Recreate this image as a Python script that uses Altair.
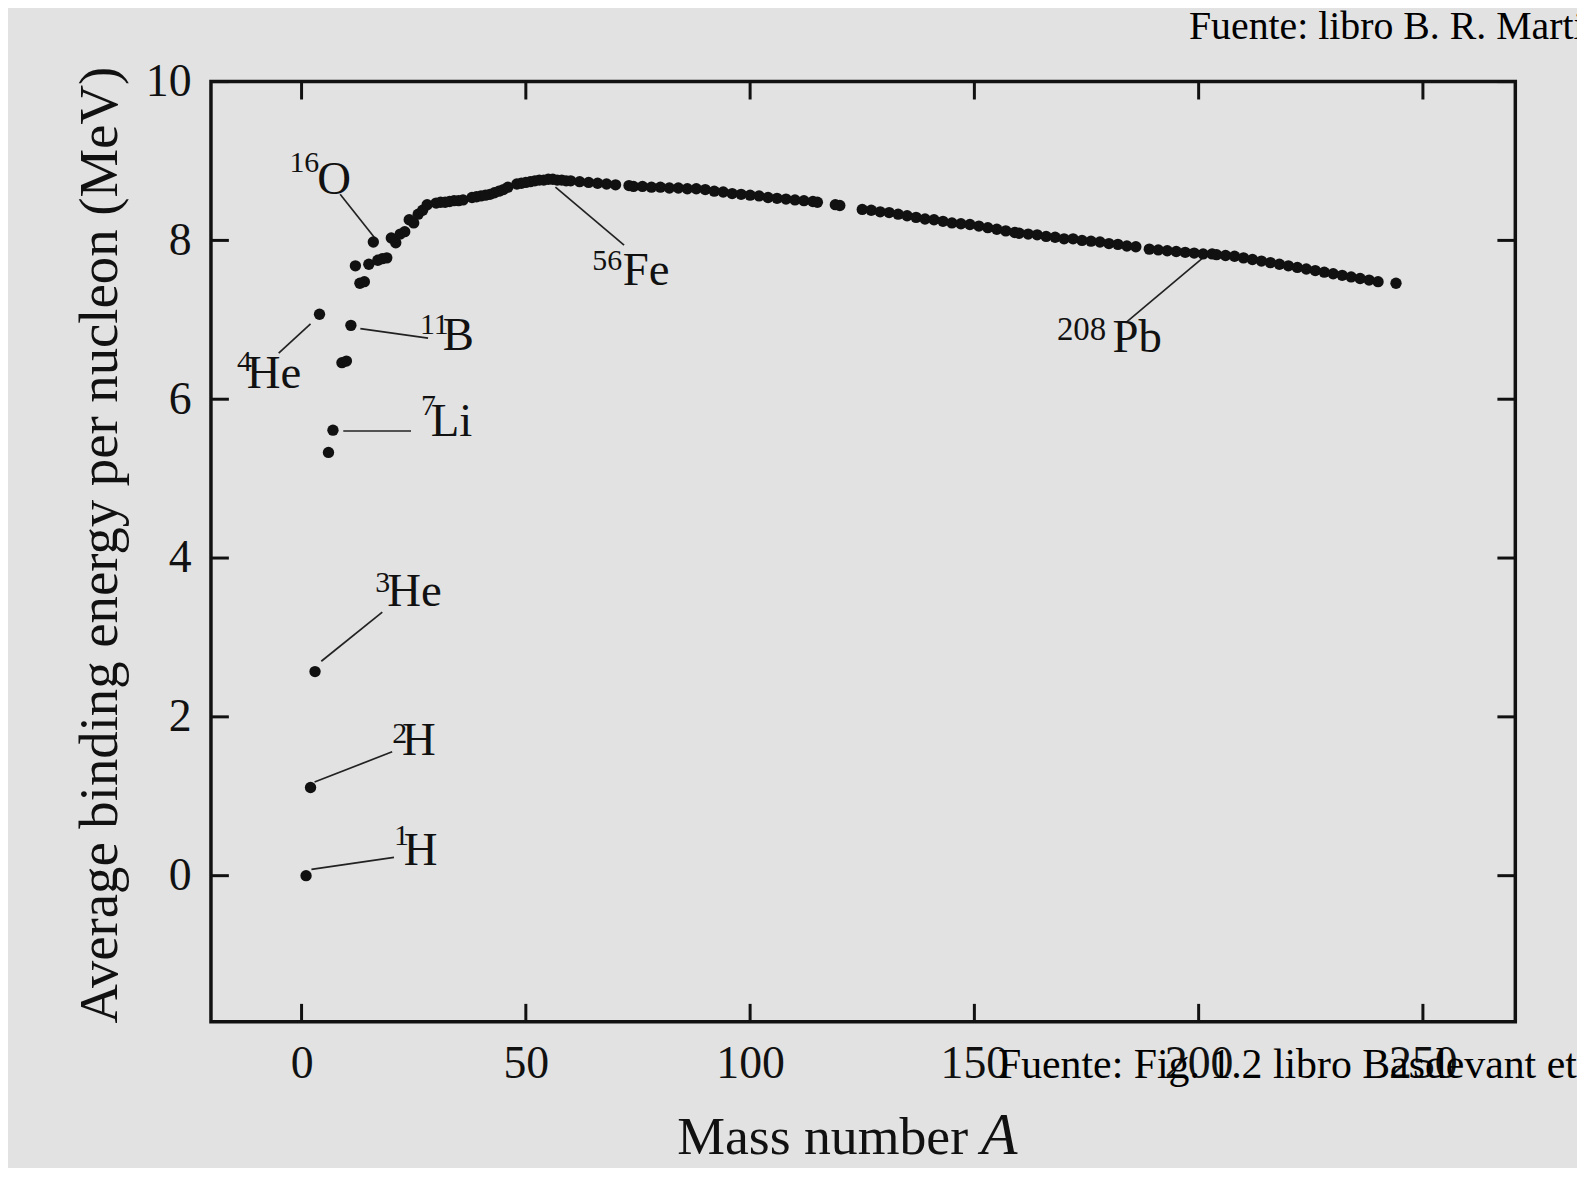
import altair as alt
import pandas as pd

# ---- data ----
mass_number = [1, 2, 3, 4, 6, 7, 9, 10, 11, 12, 13, 14, 15, 16, 17, 18, 19, 20, 21, 22, 23, 24, 25, 26, 27, 28,
               30, 31, 32, 33, 34, 35, 36,
               38, 39, 40, 41, 42, 43, 44, 45, 46,
               48, 49, 50, 51, 52, 53, 54, 55, 56, 57, 58, 59, 60, 62, 64, 66, 68, 70,
               73, 74, 76, 78, 80, 82, 84, 86, 88, 90, 92, 94, 96, 98, 100, 102, 104, 106, 108, 110, 112, 114, 115,
               119, 120,
               125, 127, 129, 131, 133, 135, 137, 139, 141, 143, 145, 147,
               149, 151, 153, 155, 157, 159, 160,
               162, 164, 166, 168, 170,
               172, 174, 176, 178, 180, 182, 184, 186,
               189, 191, 193, 195, 197, 199, 201,
               203, 204, 206, 208, 210, 212, 214, 216, 218, 220, 222, 224, 226, 228, 230, 232, 234, 236, 238, 240,
               244]
binding_energy = [0.0, 1.11, 2.57, 7.07, 5.33, 5.61, 6.46, 6.48, 6.93, 7.68, 7.46, 7.48, 7.70, 7.98, 7.75, 7.77, 7.78, 8.03, 7.97, 8.08, 8.11, 8.26, 8.22, 8.33, 8.38, 8.45,
                  8.47, 8.48, 8.48, 8.49, 8.50, 8.50, 8.51,
                  8.54, 8.55, 8.56, 8.57, 8.58, 8.60, 8.62, 8.64, 8.67,
                  8.71, 8.72, 8.73, 8.74, 8.75, 8.76, 8.76, 8.77, 8.77, 8.76, 8.76, 8.75, 8.75, 8.74, 8.73, 8.72, 8.71, 8.70,
                  8.69, 8.68, 8.68, 8.67, 8.67, 8.66, 8.66, 8.65, 8.65, 8.64, 8.62, 8.61, 8.59, 8.58, 8.57, 8.56, 8.54, 8.53, 8.52, 8.51, 8.50, 8.49, 8.48,
                  8.45, 8.44,
                  8.39, 8.38, 8.36, 8.35, 8.33, 8.31, 8.29, 8.27, 8.26, 8.24, 8.22, 8.21,
                  8.20, 8.18, 8.16, 8.14, 8.12, 8.10, 8.09,
                  8.08, 8.07, 8.05, 8.04, 8.02,
                  8.02, 8.00, 7.99, 7.98, 7.96, 7.95, 7.93, 7.92,
                  7.89, 7.88, 7.87, 7.86, 7.85, 7.84, 7.83,
                  7.83, 7.82, 7.81, 7.80, 7.78, 7.76, 7.74, 7.72, 7.70, 7.68, 7.66, 7.64, 7.62, 7.60, 7.58, 7.56, 7.54, 7.52, 7.50, 7.48,
                  7.46]

# nuclide labels (superscript mass number + symbol), anchored in data space
sup_text = ["1", "2", "3", "4", "7", "11", "16", "56"]
sup_A = [20.6, 20.2, 16.4, -14.4, 26.6, 26.4, -2.7, 64.8]
sup_BE = [0.38, 1.67, 3.57, 6.36, 5.80, 6.82, 8.86, 7.63]
sym_text = ["H", "H", "He", "He", "Li", "B", "O", "Fe"]
sym_A = [22.8, 22.4, 19.1, -12.2, 28.8, 31.5, 3.5, 71.6]
sym_BE = [0.13, 1.52, 3.40, 6.14, 5.54, 6.62, 8.58, 7.44]
pb_sup, pb_sup_A, pb_sup_BE = ["208"], [168.4], [6.74]
pb_sym, pb_sym_A, pb_sym_BE = ["Pb"], [180.8], [6.60]

# leader lines (from point to label)
lead_A1 = [2.2, 2.9, 4.4, -5.1, 9.3, 13.1, 8.6, 56.6, 201.8]
lead_A2 = [20.6, 20.2, 18.0, 2.0, 24.4, 28.2, 16.2, 71.9, 183.9]
lead_BE1 = [0.08, 1.18, 2.70, 6.58, 5.60, 6.89, 8.58, 8.67, 7.82]
lead_BE2 = [0.23, 1.56, 3.32, 6.95, 5.60, 6.77, 8.04, 7.94, 6.97]

x_ticks = [0, 50, 100, 150, 200, 250]
y_ticks = [0, 2, 4, 6, 8, 10]

y_title = "Average binding energy per nucleon (MeV)"
x_title = "Mass number"
x_title_var = "A"
source_top = "Fuente: libro B. R. Martin"
source_bottom = "Fuente: Fig. 1.2 libro Basdevant et al."

# ---- chart ----
W, H = 1311, 945
SERIF = "Liberation Serif"
INK = "#111111"

xs = alt.Scale(domain=[-20.2, 270.6], nice=False, zero=False)
ys = alt.Scale(domain=[-1.84, 10.0], nice=False, zero=False)

pts = pd.DataFrame({"A": mass_number, "BE": binding_energy})
points = alt.Chart(pts).mark_circle(size=130, color=INK, opacity=1).encode(
    x=alt.X("A:Q", scale=xs,
            axis=alt.Axis(values=x_ticks, title=None, grid=False, domain=False, ticks=False, tickSize=0,
                          labelFont=SERIF, labelFontSize=46, labelColor=INK, labelPadding=56,
                          labelBaseline="alphabetic", labelFlush=False, format="d")),
    y=alt.Y("BE:Q", scale=ys,
            axis=alt.Axis(values=y_ticks, title=None, grid=False, domain=False, ticks=False, tickSize=0,
                          labelFont=SERIF, labelFontSize=46, labelColor=INK, labelPadding=20,
                          labelBaseline="middle", labelFlush=False, format="d")),
)

lead = pd.DataFrame({"a1": lead_A1, "a2": lead_A2, "b1": lead_BE1, "b2": lead_BE2})
leaders = alt.Chart(lead).mark_rule(color="#222222", strokeWidth=1.7).encode(
    x=alt.X("a1:Q", scale=xs), x2="a2:Q", y=alt.Y("b1:Q", scale=ys), y2="b2:Q")

sup_df = pd.DataFrame({"A": sup_A, "BE": sup_BE, "t": sup_text})
sups = alt.Chart(sup_df).mark_text(font=SERIF, fontSize=30, color=INK, align="left", baseline="alphabetic").encode(
    x=alt.X("A:Q", scale=xs), y=alt.Y("BE:Q", scale=ys), text="t:N")

sym_df = pd.DataFrame({"A": sym_A, "BE": sym_BE, "t": sym_text})
syms = alt.Chart(sym_df).mark_text(font=SERIF, fontSize=47, color=INK, align="left", baseline="alphabetic").encode(
    x=alt.X("A:Q", scale=xs), y=alt.Y("BE:Q", scale=ys), text="t:N")

pbs_df = pd.DataFrame({"A": pb_sup_A, "BE": pb_sup_BE, "t": pb_sup})
pbs = alt.Chart(pbs_df).mark_text(font=SERIF, fontSize=33, color=INK, align="left", baseline="alphabetic").encode(
    x=alt.X("A:Q", scale=xs), y=alt.Y("BE:Q", scale=ys), text="t:N")

pbm_df = pd.DataFrame({"A": pb_sym_A, "BE": pb_sym_BE, "t": pb_sym})
pbm = alt.Chart(pbm_df).mark_text(font=SERIF, fontSize=47, color=INK, align="left", baseline="alphabetic").encode(
    x=alt.X("A:Q", scale=xs), y=alt.Y("BE:Q", scale=ys), text="t:N")

# inward ticks on all four sides
xt = pd.DataFrame({"v": x_ticks})
yt = pd.DataFrame({"v": y_ticks})
tick_style = dict(color=INK, strokeWidth=3)
t_bottom = alt.Chart(xt).mark_rule(**tick_style).encode(
    x=alt.X("v:Q", scale=xs), y=alt.value(H), y2=alt.value(H - 18))
t_top = alt.Chart(xt).mark_rule(**tick_style).encode(
    x=alt.X("v:Q", scale=xs), y=alt.value(0), y2=alt.value(18))
t_left = alt.Chart(yt).mark_rule(**tick_style).encode(
    y=alt.Y("v:Q", scale=ys), x=alt.value(0), x2=alt.value(18))
t_right = alt.Chart(yt).mark_rule(**tick_style).encode(
    y=alt.Y("v:Q", scale=ys), x=alt.value(W), x2=alt.value(W - 18))

# titles
ytitle = alt.Chart(pd.DataFrame({"t": [y_title]})).mark_text(
    font=SERIF, fontSize=55, color=INK, angle=270, align="center", baseline="middle").encode(
    x=alt.value(-111), y=alt.value(466), text="t:N")
xtitle = alt.Chart(pd.DataFrame({"t": [x_title]})).mark_text(
    font=SERIF, fontSize=54, color=INK, align="right", baseline="alphabetic").encode(
    x=alt.value(761), y=alt.value(1078), text="t:N")
xtitle_var = alt.Chart(pd.DataFrame({"t": [x_title_var]})).mark_text(
    font=SERIF, fontSize=60, fontStyle="italic", color=INK, align="left", baseline="alphabetic").encode(
    x=alt.value(774), y=alt.value(1078), text="t:N")

# source notes
src_top = alt.Chart(pd.DataFrame({"t": [source_top]})).mark_text(
    font=SERIF, fontSize=40, color="#000000", align="left", baseline="alphabetic").encode(
    x=alt.value(983), y=alt.value(-43), text="t:N")
src_bottom = alt.Chart(pd.DataFrame({"t": [source_bottom]})).mark_text(
    font=SERIF, fontSize=42, color="#000000", align="left", baseline="alphabetic").encode(
    x=alt.value(791), y=alt.value(1001), text="t:N")

chart = alt.layer(
    t_bottom, t_top, t_left, t_right, leaders, points, sups, syms, pbs, pbm,
    ytitle, xtitle, xtitle_var, src_top, src_bottom,
).properties(
    width=W, height=H,
    padding={"left": 204, "top": 71, "right": 62, "bottom": 144},
    autosize=alt.AutoSizeParams(type="none"),
    background="#e2e2e2",
).configure_view(
    stroke=INK, strokeWidth=3.5,
)

chart.save("out.html", embed_options={"renderer": "svg", "actions": False})
